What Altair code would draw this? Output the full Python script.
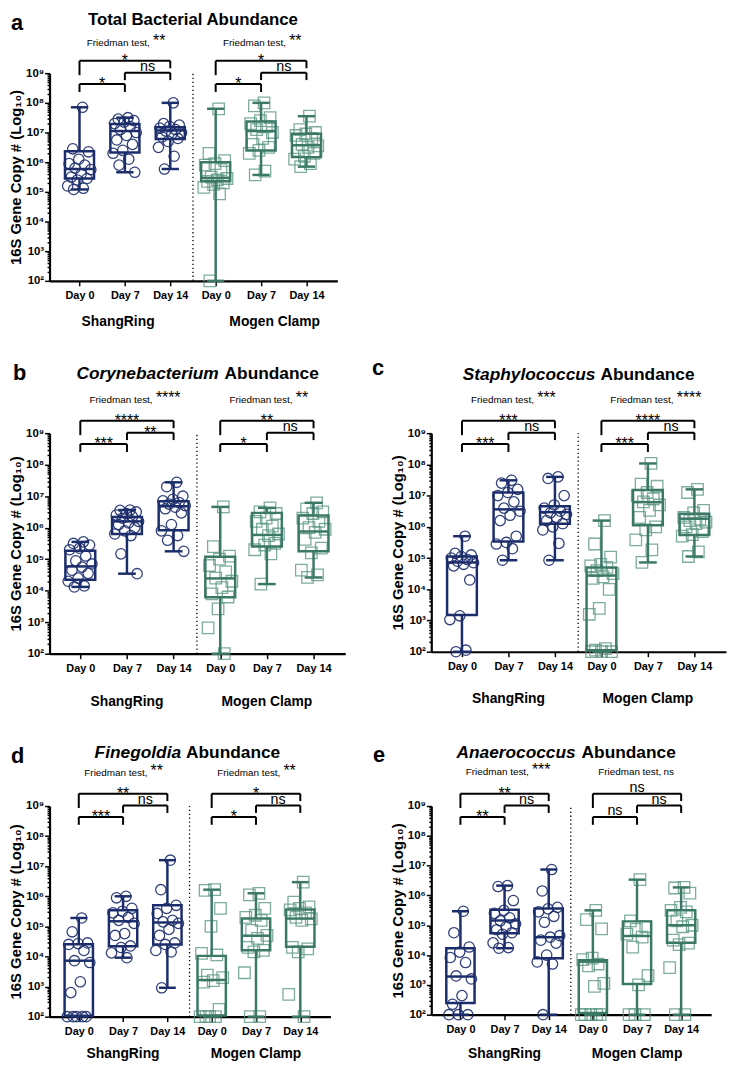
import altair as alt
import pandas as pd

FONT = "Liberation Sans"
NAVY = "#1c2d6b"
GREEN = "#3b7866"
GREEN_PT = "#5a9683"

DAYS = ["Day 0", "Day 7", "Day 14"]
DEVICES = ["ShangRing", "Mogen Clamp"]
AXIS_TITLE = "16S Gene Copy # (Log\u2081\u2080)"
Y_DOMAIN = [1e2, 1e9]
X_DOMAIN = [-0.66, 5.68]

# ---------------- values (log10 copies) ----------------
# Panel a: Total bacterial abundance
TOT_SR_D0 = [7.85, 6.45, 6.35, 6.1, 5.95, 5.9, 5.8, 5.75, 5.6, 5.5, 5.45, 5.4, 5.2, 5.12, 5.08]
TOT_SR_D7 = [7.5, 7.45, 7.4, 7.35, 7.3, 7.2, 7.1, 7.0, 6.9, 6.75, 6.6, 6.4, 6.3, 6.1, 5.9, 5.66]
TOT_SR_D14 = [8.0, 7.3, 7.25, 7.2, 7.15, 7.1, 7.05, 7.0, 6.95, 6.85, 6.8, 6.7, 6.5, 6.2, 5.77]
TOT_MC_D0 = [7.8, 6.3, 6.05, 5.95, 5.9, 5.75, 5.5, 5.45, 5.4, 5.35, 5.3, 5.25, 5.15, 4.93, 2.0]
TOT_MC_D7 = [8.0, 7.9, 7.5, 7.4, 7.3, 7.2, 7.1, 7.0, 6.8, 6.6, 6.5, 6.4, 6.3, 5.7, 5.57]
TOT_MC_D14 = [7.55, 7.1, 7.0, 6.95, 6.9, 6.8, 6.6, 6.55, 6.5, 6.4, 6.3, 6.2, 6.1, 5.95, 5.85]
TOT_BOX_SR = [[5.08, 5.45, 5.77, 6.37, 7.85], [5.66, 6.33, 7.05, 7.29, 7.5], [5.77, 6.78, 7.07, 7.18, 8.0]]
TOT_BOX_MC = [[2.0, 5.36, 5.47, 6.0, 7.8], [5.57, 6.39, 7.05, 7.37, 8.0], [5.85, 6.17, 6.57, 6.96, 7.55]]
TOT_SIG_SR = ["*", "ns", "*"]
TOT_SIG_MC = ["*", "ns", "*"]
TOT_FRIEDMAN = ["**", "**"]

# Panel b: Corynebacterium
COR_SR_D0 = [5.55, 5.5, 5.45, 5.35, 5.3, 5.1, 4.95, 4.85, 4.75, 4.65, 4.55, 4.4, 4.3, 4.15, 4.12]
COR_SR_D7 = [6.56, 6.55, 6.5, 6.45, 6.4, 6.35, 6.3, 6.2, 6.15, 6.1, 6.0, 5.9, 5.8, 5.75, 5.17, 4.54]
COR_SR_D14 = [7.44, 7.3, 7.0, 6.9, 6.85, 6.8, 6.75, 6.7, 6.65, 6.6, 6.47, 6.1, 5.9, 5.75, 5.6, 5.25]
COR_MC_D0 = [6.66, 5.4, 5.1, 5.0, 4.8, 4.6, 4.4, 4.3, 4.1, 3.9, 3.8, 3.42, 2.82, 2.0]
COR_MC_D7 = [6.63, 6.5, 6.45, 6.3, 6.2, 6.05, 5.95, 5.8, 5.75, 5.6, 5.5, 5.45, 5.3, 5.17, 4.21]
COR_MC_D14 = [6.79, 6.6, 6.5, 6.45, 6.3, 6.2, 6.0, 5.95, 5.85, 5.63, 5.35, 5.2, 4.65, 4.5, 4.42]
COR_BOX_SR = [[4.12, 4.35, 4.77, 5.27, 5.55], [4.54, 5.8, 6.2, 6.34, 6.56], [5.25, 5.92, 6.68, 6.84, 7.44]]
COR_BOX_MC = [[2.0, 3.79, 4.39, 5.08, 6.66], [4.21, 5.4, 5.77, 6.47, 6.63], [4.42, 5.25, 5.88, 6.39, 6.79]]
COR_SIG_SR = ["***", "**", "****"]
COR_SIG_MC = ["*", "ns", "**"]
COR_FRIEDMAN = ["****", "**"]

# Panel c: Staphylococcus
STA_SR_D0 = [5.7, 5.15, 5.1, 5.05, 5.0, 4.95, 4.9, 4.85, 4.8, 4.75, 4.3, 3.15, 3.03, 2.05, 2.0]
STA_SR_D7 = [7.49, 7.4, 7.2, 7.1, 7.0, 6.8, 6.6, 6.5, 6.37, 6.2, 5.7, 5.5, 5.45, 5.3, 4.93]
STA_SR_D14 = [7.6, 7.55, 7.0, 6.7, 6.6, 6.5, 6.45, 6.4, 6.3, 6.2, 6.1, 6.0, 5.9, 5.47, 4.93]
STA_MC_D0 = [6.2, 5.45, 5.03, 4.8, 4.75, 4.7, 4.6, 4.5, 4.4, 4.35, 4.0, 3.39, 3.2, 2.1, 2.05, 2.0, 2.0, 2.0]
STA_MC_D7 = [8.03, 7.37, 7.3, 7.1, 7.0, 6.9, 6.8, 6.7, 6.53, 6.3, 6.0, 5.9, 5.58, 5.26, 4.86]
STA_MC_D14 = [7.2, 7.1, 6.53, 6.45, 6.3, 6.25, 6.2, 6.15, 6.1, 6.0, 5.85, 5.75, 5.7, 5.2, 5.05]
STA_BOX_SR = [[2.0, 3.18, 4.86, 5.05, 5.7], [4.93, 5.53, 6.56, 7.1, 7.49], [4.93, 6.1, 6.47, 6.66, 7.6]]
STA_BOX_MC = [[2.0, 2.05, 4.44, 4.7, 6.2], [4.86, 6.05, 6.79, 7.18, 8.03], [5.05, 5.74, 6.26, 6.42, 7.2]]
STA_SIG_SR = ["***", "ns", "***"]
STA_SIG_MC = ["***", "ns", "****"]
STA_FRIEDMAN = ["***", "****"]

# Panel d: Finegoldia
FIN_SR_D0 = [5.28, 4.82, 4.45, 4.43, 4.4, 4.2, 3.86, 3.8, 3.16, 2.8, 2.0, 2.0, 2.0, 2.0, 2.0]
FIN_SR_D7 = [6.0, 5.95, 5.6, 5.5, 5.45, 5.3, 5.2, 5.1, 4.76, 4.7, 4.35, 4.3, 4.12, 3.96]
FIN_SR_D14 = [7.2, 6.22, 5.7, 5.6, 5.43, 5.2, 5.15, 5.1, 4.9, 4.7, 4.45, 4.4, 4.2, 4.15, 2.96]
FIN_MC_D0 = [6.22, 6.2, 5.6, 5.0, 4.1, 4.05, 3.38, 3.3, 3.2, 3.15, 2.24, 2.0, 2.0, 2.0, 2.0]
FIN_MC_D7 = [6.1, 6.05, 5.6, 5.37, 5.3, 5.2, 4.87, 4.7, 4.6, 4.3, 4.2, 4.15, 3.46, 2.0, 2.0]
FIN_MC_D14 = [6.47, 5.81, 5.65, 5.6, 5.55, 5.45, 5.3, 5.25, 5.2, 4.3, 4.25, 4.15, 2.74, 2.0]
FIN_BOX_SR = [[2.0, 2.03, 3.86, 4.41, 5.28], [3.96, 4.34, 5.17, 5.54, 6.0], [2.96, 4.4, 5.13, 5.7, 7.2]]
FIN_BOX_MC = [[2.0, 2.04, 3.22, 4.02, 6.22], [2.0, 4.21, 4.69, 5.26, 6.1], [2.0, 4.32, 5.26, 5.56, 6.47]]
FIN_SIG_SR = ["***", "ns", "**"]
FIN_SIG_MC = ["*", "ns", "*"]
FIN_FRIEDMAN = ["**", "**"]

# Panel e: Anaerococcus
ANA_SR_D0 = [5.47, 4.75, 4.27, 4.1, 3.92, 3.75, 3.3, 3.2, 2.64, 2.35, 2.0, 2.0, 2.0]
ANA_SR_D7 = [6.33, 6.3, 5.83, 5.5, 5.4, 5.25, 5.15, 5.05, 4.95, 4.85, 4.75, 4.7, 4.41, 4.25, 4.23]
ANA_SR_D14 = [6.87, 6.15, 5.6, 5.55, 5.45, 5.3, 5.1, 4.65, 4.6, 4.5, 4.4, 4.0, 3.77, 3.7, 2.0]
ANA_MC_D0 = [5.5, 5.19, 4.88, 3.9, 3.85, 3.7, 3.64, 3.05, 2.95, 2.0, 2.0, 2.0, 2.0, 2.0]
ANA_MC_D7 = [6.53, 5.15, 4.95, 4.86, 4.7, 4.6, 4.27, 3.31, 3.0, 2.0, 2.0, 2.0]
ANA_MC_D14 = [6.27, 6.25, 6.08, 5.6, 5.5, 5.45, 5.15, 5.0, 4.95, 4.5, 4.4, 4.35, 3.58, 2.0, 2.0]
ANA_BOX_SR = [[2.0, 2.39, 3.28, 4.23, 5.47], [4.23, 4.73, 5.16, 5.52, 6.33], [2.0, 3.89, 4.6, 5.56, 6.87]]
ANA_BOX_MC = [[2.0, 2.06, 3.78, 3.83, 5.5], [2.0, 3.03, 4.64, 5.13, 6.53], [2.0, 4.41, 5.0, 5.5, 6.27]]
ANA_SIG_SR = ["**", "ns", "**"]
ANA_SIG_MC = ["ns", "ns", "ns"]
ANA_FRIEDMAN = ["***", "ns"]

# ---------------- axes ----------------
SUP = ["\u2070", "\u00b9", "\u00b2", "\u00b3", "\u2074", "\u2075", "\u2076", "\u2077", "\u2078", "\u2079"]
SUP_JS = "[" + ",".join("'" + s + "'" for s in SUP) + "]"
LOGV = "(log(datum.value)/LN10)"
DEC = f"abs({LOGV} - round({LOGV})) < 1e-6"
Y_TICKS = [float(m * 10 ** k) for k in range(2, 9) for m in range(1, 10)] + [1e9]
X_LABELS_JS = "[" + ",".join("'" + s + "'" for s in DAYS + DAYS) + "]"

Y_AXIS = alt.Axis(
    values=Y_TICKS,
    labelExpr=f"{DEC} ? '10' + {SUP_JS}[round({LOGV})] : ''",
    tickSize={"condition": {"test": DEC, "value": 5}, "value": 2.5},
    title=AXIS_TITLE, titleFontSize=15, titleFontWeight="bold", titleColor="black",
    titlePadding=2, labelFontSize=11.5, labelFontWeight="bold", labelColor="black",
    labelPadding=1, labelOverlap=False, grid=False, domainColor="black",
    domainWidth=2.2, tickColor="black", tickWidth=1.5,
)
X_AXIS = alt.Axis(
    values=[0, 1, 2, 3, 4, 5], labelExpr=f"{X_LABELS_JS}[round(datum.value)]",
    title=None, grid=False, domainColor="black", domainWidth=2.2, tickColor="black",
    tickWidth=1.5, tickSize=5, labelFontSize=11, labelFontWeight="bold",
    labelColor="black", labelPadding=4, labelOverlap=False, labelFlush=False,
)


def XQ(field):
    return alt.X(f"{field}:Q", scale=alt.Scale(domain=X_DOMAIN, nice=False, zero=False), axis=X_AXIS)


def YQ(field):
    return alt.Y(f"{field}:Q", scale=alt.Scale(type="log", domain=Y_DOMAIN, nice=False), axis=Y_AXIS)


def text_layer(df, **kw):
    return alt.Chart(df).mark_text(color="black", **kw).encode(x=XQ("x"), y=YQ("y"), text="t:N")


def build_panel(p):
    w, h = p["w"], p["h"]
    dpx = (X_DOMAIN[1] - X_DOMAIN[0]) / w
    ppd = h / 7.0

    def xpx(px):
        return X_DOMAIN[0] + px * dpx

    def yup(px):
        return 10 ** (9 + px / ppd)

    def ydown(px):
        return 10 ** (2 - px / ppd)

    layers = []
    sep = pd.DataFrame({"x": [2.5], "y1": [Y_DOMAIN[0]], "y2": [Y_DOMAIN[1]]})
    layers.append(alt.Chart(sep).mark_rule(color="black", strokeWidth=1.3, strokeDash=[1.3, 2.7])
                  .encode(x=XQ("x"), y=YQ("y1"), y2="y2:Q"))

    styles = [
        (p["sr"], p["box_sr"], NAVY, NAVY, "circle", 110, 0.9),
        (p["mc"], p["box_mc"], GREEN, GREEN_PT, "square", 135, 0.78),
    ]
    for d, (lists, boxes, col, ptcol, shape, size, op) in enumerate(styles):
        pts = pd.DataFrame([{"pos": 3 * d + j, "val": 10 ** v}
                            for j, vals in enumerate(lists) for v in vals])
        layers.append(
            alt.Chart(pts)
            .transform_window(k="row_number()", groupby=["pos"])
            .transform_calculate(jx="datum.pos + ((datum.k * 0.618034) % 1 - 0.5) * 0.56")
            .mark_point(shape=shape, filled=False, size=size, color=ptcol, strokeWidth=1.3, opacity=op)
            .encode(x=XQ("jx"), y=YQ("val"))
        )
        bx = pd.DataFrame([{"pos": 3 * d + j, "lo": 10 ** b[0], "q1": 10 ** b[1], "med": 10 ** b[2],
                            "q3": 10 ** b[3], "hi": 10 ** b[4]} for j, b in enumerate(boxes)])
        base = alt.Chart(bx).transform_calculate(
            xl="datum.pos - 0.32", xr="datum.pos + 0.32", cl="datum.pos - 0.19", cr="datum.pos + 0.19")
        rs = dict(color=col, strokeWidth=2.5)
        layers += [
            base.mark_rule(**rs).encode(x=XQ("pos"), y=YQ("lo"), y2="q1:Q"),
            base.mark_rule(**rs).encode(x=XQ("pos"), y=YQ("q3"), y2="hi:Q"),
            base.mark_rule(**rs).encode(x=XQ("cl"), x2="cr:Q", y=YQ("lo")),
            base.mark_rule(**rs).encode(x=XQ("cl"), x2="cr:Q", y=YQ("hi")),
            base.mark_rect(fillOpacity=0, stroke=col, strokeWidth=2.5)
            .encode(x=XQ("xl"), x2="xr:Q", y=YQ("q1"), y2="q3:Q"),
            base.mark_rule(**rs).encode(x=XQ("xl"), x2="xr:Q", y=YQ("med")),
        ]

    # significance brackets
    rows = []
    for d, sig in enumerate([p["sig_sr"], p["sig_mc"]]):
        b0 = 3 * d
        specs = [(b0, b0 + 1, -11, -19, -19), (b0 + 1, b0 + 2, 0.5, -7, -7), (b0, b0 + 2, 12.5, -2, 5)]
        for (xa, xb, lev, la, lb), lab in zip(specs, sig):
            rows.append({"xa": xa, "xb": xb, "x": (xa + xb) / 2, "y": yup(lev), "la": yup(la),
                         "lb": yup(lb), "t": lab, "star": lab != "ns"})
    br = pd.DataFrame(rows)
    bs = dict(color="black", strokeWidth=2)
    layers += [
        alt.Chart(br).mark_rule(**bs).encode(x=XQ("xa"), x2="xb:Q", y=YQ("y")),
        alt.Chart(br).mark_rule(**bs).encode(x=XQ("xa"), y=YQ("y"), y2="la:Q"),
        alt.Chart(br).mark_rule(**bs).encode(x=XQ("xb"), y=YQ("y"), y2="lb:Q"),
        text_layer(br[br["star"]], align="center", baseline="alphabetic", fontSize=16, dy=5),
        text_layer(br[~br["star"]], align="center", baseline="alphabetic", fontSize=14.5, dy=-2),
    ]

    # Friedman test
    fy = yup(p["fried_above"])
    fr = pd.DataFrame({"x": [1.55, 4.55], "y": [fy, fy], "t": ["Friedman test,"] * 2})
    layers.append(text_layer(fr, align="right", baseline="alphabetic", fontSize=10))
    fs = pd.DataFrame({"x": [1.62, 4.62], "y": [fy, fy], "t": p["fried"]})
    fs_star = fs[fs["t"] != "ns"]
    fs_ns = fs[fs["t"] == "ns"]
    layers.append(text_layer(fs_star, align="left", baseline="alphabetic", fontSize=16))
    if len(fs_ns):
        layers.append(text_layer(fs_ns.assign(x=fs_ns["x"] - 0.02), align="left", baseline="alphabetic", fontSize=10))

    # title
    ty = yup(p["title_above"])
    if p["title_it"]:
        t1 = pd.DataFrame({"x": [xpx(p["split"][0])], "y": [ty], "t": [p["title_it"]]})
        t2 = pd.DataFrame({"x": [xpx(p["split"][1])], "y": [ty], "t": ["Abundance"]})
        layers.append(text_layer(t1, align="right", baseline="alphabetic", fontSize=17.5,
                                 fontWeight="bold", fontStyle="italic"))
        layers.append(text_layer(t2, align="left", baseline="alphabetic", fontSize=17.5, fontWeight="bold"))
    else:
        t1 = pd.DataFrame({"x": [xpx(p["split"][0])], "y": [ty], "t": [p["title"]]})
        layers.append(text_layer(t1, align="center", baseline="alphabetic", fontSize=17, fontWeight="bold"))

    # panel letter
    lt = pd.DataFrame({"x": [xpx(p["letter_px"])], "y": [yup(p["letter_above"])], "t": [p["letter"]]})
    layers.append(text_layer(lt, align="left", baseline="alphabetic", fontSize=22, fontWeight="bold"))

    # device labels
    gl = pd.DataFrame({"x": p["group_x"], "y": [ydown(p["group_below"])] * 2, "t": DEVICES})
    layers.append(text_layer(gl, align="center", baseline="alphabetic", fontSize=14, fontWeight="bold"))

    return alt.layer(*layers).properties(width=w, height=h)


PANELS = [
    dict(letter="a", w=291, h=210, title="Total Bacterial Abundance", title_it=None, split=[145],
         title_above=48.7, letter_px=-39, letter_above=44, fried_above=27, group_x=[0.85, 4.3],
         group_below=46, sr=[TOT_SR_D0, TOT_SR_D7, TOT_SR_D14], mc=[TOT_MC_D0, TOT_MC_D7, TOT_MC_D14],
         box_sr=TOT_BOX_SR, box_mc=TOT_BOX_MC, sig_sr=TOT_SIG_SR, sig_mc=TOT_SIG_MC, fried=TOT_FRIEDMAN),
    dict(letter="b", w=299, h=223, title_it="Corynebacterium", split=[171, 177],
         title_above=55, letter_px=-37, letter_above=54, fried_above=31, group_x=[1, 4],
         group_below=53, sr=[COR_SR_D0, COR_SR_D7, COR_SR_D14], mc=[COR_MC_D0, COR_MC_D7, COR_MC_D14],
         box_sr=COR_BOX_SR, box_mc=COR_BOX_MC, sig_sr=COR_SIG_SR, sig_mc=COR_SIG_MC, fried=COR_FRIEDMAN),
    dict(letter="c", w=298, h=221, title_it="Staphylococcus", split=[166, 171],
         title_above=54, letter_px=-60, letter_above=59, fried_above=30, group_x=[1, 4],
         group_below=52, sr=[STA_SR_D0, STA_SR_D7, STA_SR_D14], mc=[STA_MC_D0, STA_MC_D7, STA_MC_D14],
         box_sr=STA_BOX_SR, box_mc=STA_BOX_MC, sig_sr=STA_SIG_SR, sig_mc=STA_SIG_MC, fried=STA_FRIEDMAN),
    dict(letter="d", w=284, h=213, title_it="Finegoldia", split=[133, 138],
         title_above=49, letter_px=-39, letter_above=44, fried_above=30, group_x=[1, 4],
         group_below=42, sr=[FIN_SR_D0, FIN_SR_D7, FIN_SR_D14], mc=[FIN_MC_D0, FIN_MC_D7, FIN_MC_D14],
         box_sr=FIN_BOX_SR, box_mc=FIN_BOX_MC, sig_sr=FIN_SIG_SR, sig_mc=FIN_SIG_MC, fried=FIN_FRIEDMAN),
    dict(letter="e", w=283, h=211, title_it="Anaerococcus", split=[146, 152],
         title_above=49, letter_px=-59, letter_above=45, fried_above=31, group_x=[1, 4],
         group_below=44, sr=[ANA_SR_D0, ANA_SR_D7, ANA_SR_D14], mc=[ANA_MC_D0, ANA_MC_D7, ANA_MC_D14],
         box_sr=ANA_BOX_SR, box_mc=ANA_BOX_MC, sig_sr=ANA_SIG_SR, sig_mc=ANA_SIG_MC, fried=ANA_FRIEDMAN),
]

charts = [build_panel(p) for p in PANELS]
spacer = (alt.Chart(pd.DataFrame({"v": [0]})).mark_point(opacity=0)
          .encode(x=alt.value(0), y=alt.value(0)).properties(width=1, height=1))

chart = alt.concat(
    charts[0], spacer, charts[1], charts[2], charts[3], charts[4],
    columns=2, spacing={"row": 154, "column": 87}, bounds="flush", align="each",
    padding={"top": -4, "left": 0, "right": 0, "bottom": 0},
).configure(font=FONT).configure_view(stroke="transparent")

chart.save("out.html", embed_options={"renderer": "svg", "actions": False})
